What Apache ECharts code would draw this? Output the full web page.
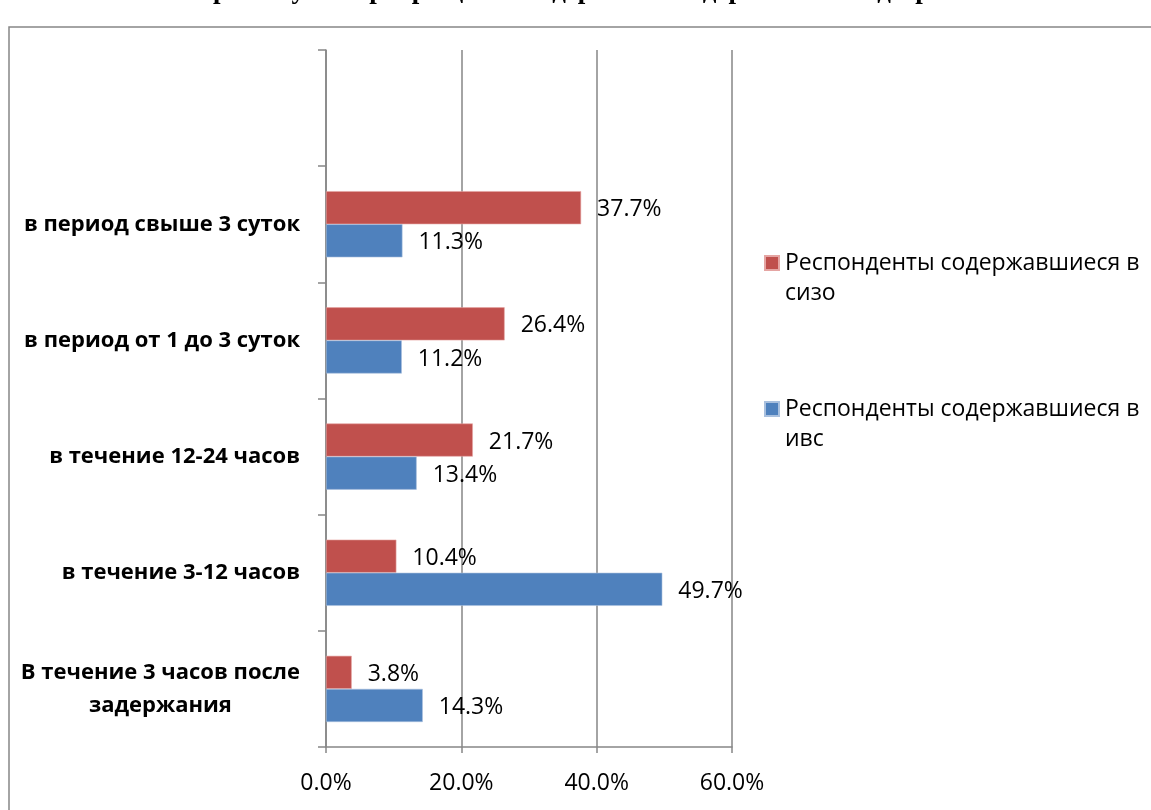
<!DOCTYPE html>
<html>
<head>
<meta charset="utf-8">
<script src="https://cdn.jsdelivr.net/npm/echarts@6/dist/echarts.min.js"></script>
<style>
html,body{margin:0;padding:0;background:#fff;}
#chart{width:1151px;height:810px;}
</style>
</head>
<body>
<div id="chart"></div>
<script>
// Categories from bottom to top (top slot is empty in the original)
const categories = [
  "В течение 3 часов после задержания",
  "в течение 3-12 часов",
  "в течение 12-24 часов",
  "в период от 1 до 3 суток",
  "в период свыше 3 суток",
  ""
];
const seriesNames = [
  "Респонденты содержавшиеся в сизо",
  "Респонденты содержавшиеся в ивс"
];
const sizoValues = [3.8, 10.4, 21.7, 26.4, 37.7, null];
const ivsValues = [14.3, 49.7, 13.4, 11.2, 11.3, null];
const xTicks = [0, 20, 40, 60];
const titleText = "Время суток прекращения содержания задержанных подозреваемых в ИВС";

const GRAY = '#868686';
const labelFont = 'Open Sans';

const chart = echarts.init(document.getElementById('chart'), null, {renderer: 'canvas'});

function catLabel(v) {
  if (v === categories[0]) {
    return '{c|В течение 3 часов после}\n{c|задержания}';
  }
  return '{s|' + v + '}';
}

function legendLabel(name) {
  const idx = name.lastIndexOf(' ');
  return ' \n' + name.slice(0, idx) + '\n' + name.slice(idx + 1);
}

const valueFmt = function (p) { return p.value == null ? '' : p.value.toFixed(1) + '%'; };

const option = {
  backgroundColor: '#ffffff',
  animation: false,
  graphic: [
    {
      type: 'rect', silent: true, z: 0,
      shape: {x: 9, y: 27, width: 1300, height: 900},
      style: {fill: 'none', stroke: GRAY, lineWidth: 1.5}
    },
    {
      type: 'text', silent: true, left: 195, top: -22,
      style: {
        text: titleText,
        font: 'bold 27px "Liberation Serif"',
        fill: '#000'
      }
    }
  ],
  legend: {
    orient: 'vertical',
    left: 764,
    top: 218,
    padding: 0,
    itemWidth: 14,
    itemHeight: 14,
    itemGap: 56,
    icon: 'rect',
    data: [seriesNames[0], seriesNames[1]],
    formatter: legendLabel,
    textStyle: {
      fontFamily: labelFont,
      fontSize: 23,
      lineHeight: 30,
      color: '#000',
      padding: [0, 0, 0, 1]
    }
  },
  grid: {
    left: 326,
    right: 419,
    top: 50,
    bottom: 63,
    containLabel: false
  },
  xAxis: {
    type: 'value',
    min: 0,
    max: 60,
    interval: 20,
    axisLine: {show: true, lineStyle: {color: GRAY, width: 1.5}},
    axisTick: {show: true, length: 6, lineStyle: {color: GRAY, width: 1.5}},
    splitLine: {show: true, lineStyle: {color: GRAY, width: 1.5}},
    axisLabel: {
      margin: 25,
      fontFamily: labelFont,
      fontSize: 23,
      color: '#000',
      formatter: function (v) { return xTicks.indexOf(v) >= 0 ? v.toFixed(1) + '%' : ''; }
    }
  },
  yAxis: {
    type: 'category',
    data: categories,
    axisLine: {show: true, lineStyle: {color: GRAY, width: 1.5}},
    axisTick: {show: true, length: 8, lineStyle: {color: GRAY, width: 1.5}},
    splitLine: {show: false},
    axisLabel: {
      margin: 26,
      align: 'right',
      formatter: catLabel,
      rich: {
        c: {align: 'center', fontFamily: labelFont, fontWeight: 'bold', fontSize: 22, lineHeight: 33, color: '#000'},
        s: {fontFamily: labelFont, fontWeight: 'bold', fontSize: 22, color: '#000'}
      }
    }
  },
  series: [
    {
      name: seriesNames[0],
      type: 'bar',
      data: sizoValues,
      barGap: '0%',
      barCategoryGap: '43%',
      itemStyle: {color: '#C0504D', borderColor: '#E5A5A3', borderWidth: 0.6},
      label: {
        show: true, position: 'right', distance: 16, offset: [0, 2],
        fontFamily: labelFont, fontSize: 23, color: '#000',
        formatter: valueFmt
      }
    },
    {
      name: seriesNames[1],
      type: 'bar',
      data: ivsValues,
      barGap: '0%',
      barCategoryGap: '43%',
      itemStyle: {color: '#4F81BD', borderColor: '#A9C0DE', borderWidth: 0.6},
      label: {
        show: true, position: 'right', distance: 16, offset: [0, 2],
        fontFamily: labelFont, fontSize: 23, color: '#000',
        formatter: valueFmt
      }
    }
  ]
};
chart.setOption(option);
</script>
</body>
</html>
